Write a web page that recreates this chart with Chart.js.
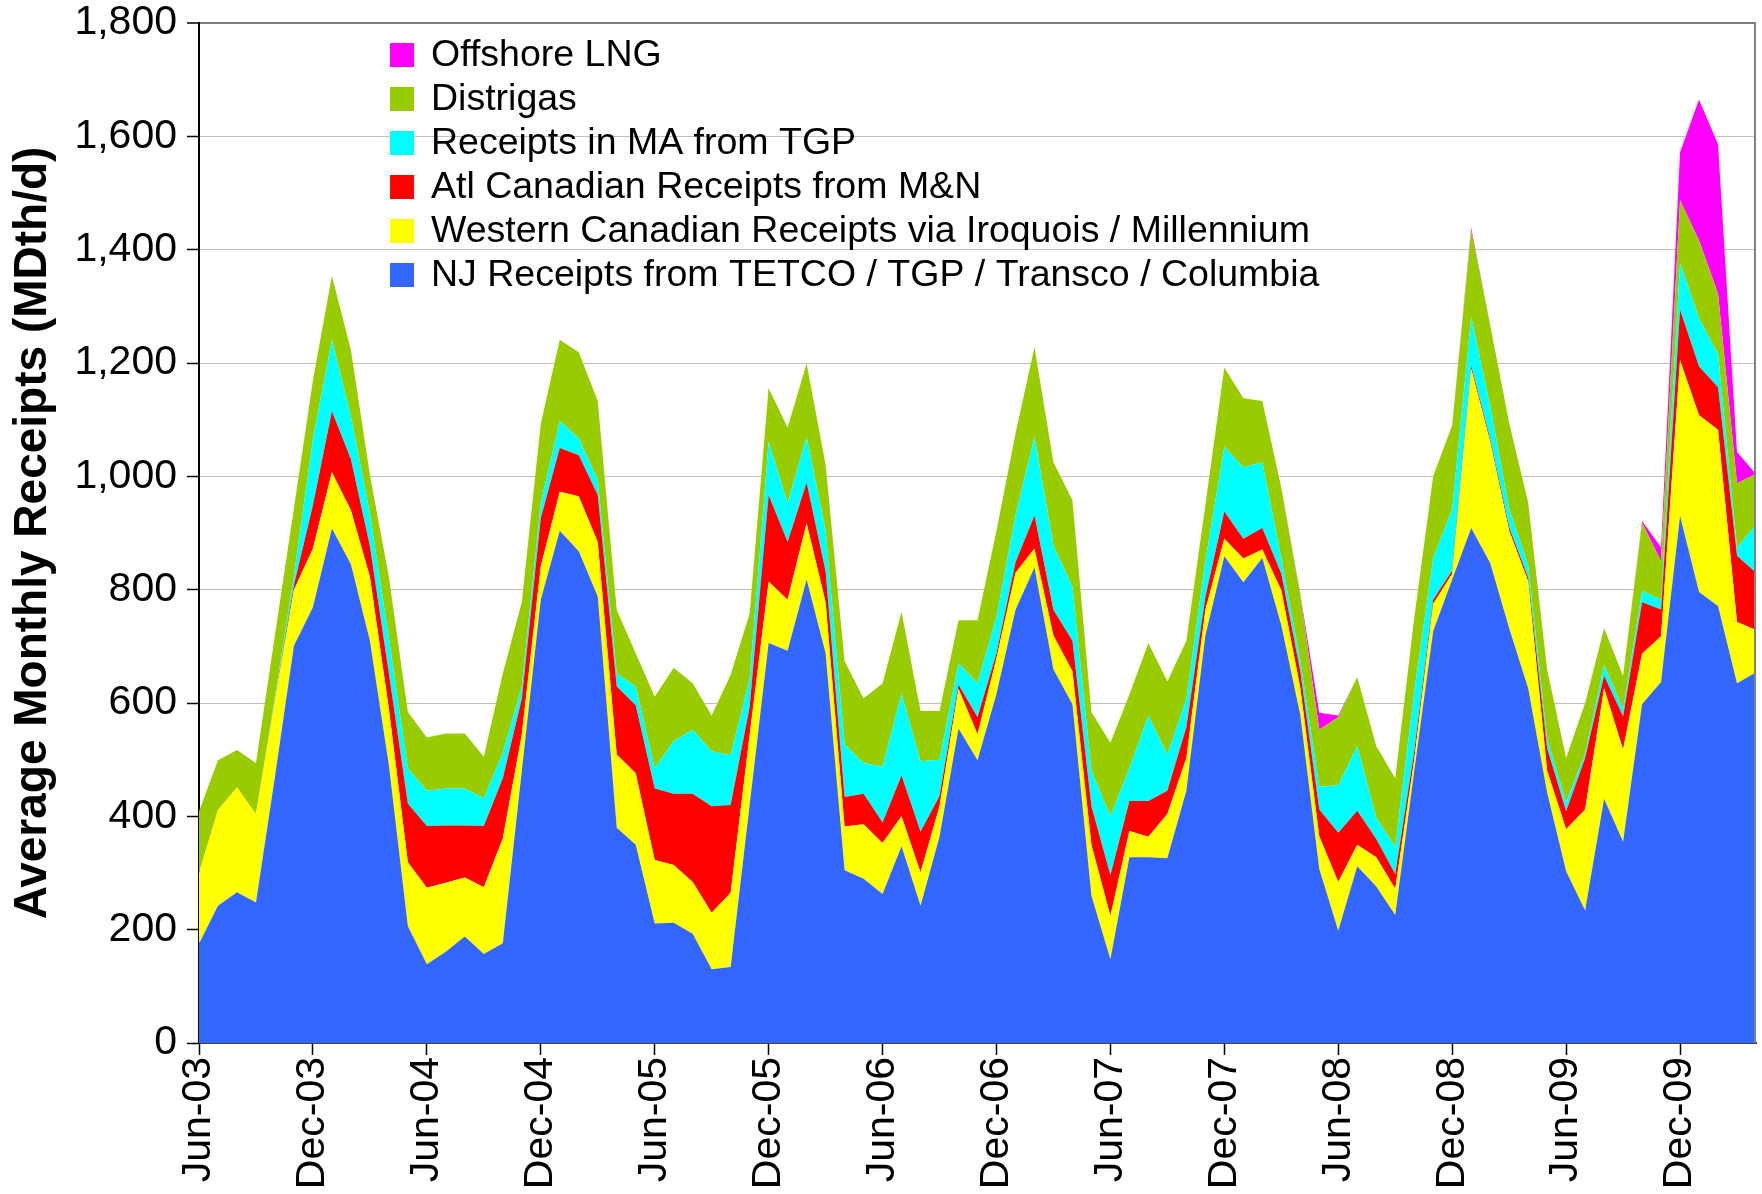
<!DOCTYPE html>
<html>
<head>
<meta charset="utf-8">
<script src="https://cdn.jsdelivr.net/npm/chart.js@4.4.1/dist/chart.umd.min.js"></script>
<style>
  html, body { margin: 0; padding: 0; background: #ffffff; }
  #wrap { width: 1762px; height: 1194px; }
</style>
</head>
<body>
<div id="wrap"><canvas id="c" width="1762" height="1194"></canvas></div>
<script>
// Monthly categories, Jun-03 .. Apr-10
const months = [
  'Jun-03','Jul-03','Aug-03','Sep-03','Oct-03','Nov-03','Dec-03',
  'Jan-04','Feb-04','Mar-04','Apr-04','May-04','Jun-04','Jul-04','Aug-04','Sep-04','Oct-04','Nov-04','Dec-04',
  'Jan-05','Feb-05','Mar-05','Apr-05','May-05','Jun-05','Jul-05','Aug-05','Sep-05','Oct-05','Nov-05','Dec-05',
  'Jan-06','Feb-06','Mar-06','Apr-06','May-06','Jun-06','Jul-06','Aug-06','Sep-06','Oct-06','Nov-06','Dec-06',
  'Jan-07','Feb-07','Mar-07','Apr-07','May-07','Jun-07','Jul-07','Aug-07','Sep-07','Oct-07','Nov-07','Dec-07',
  'Jan-08','Feb-08','Mar-08','Apr-08','May-08','Jun-08','Jul-08','Aug-08','Sep-08','Oct-08','Nov-08','Dec-08',
  'Jan-09','Feb-09','Mar-09','Apr-09','May-09','Jun-09','Jul-09','Aug-09','Sep-09','Oct-09','Nov-09','Dec-09',
  'Jan-10','Feb-10','Mar-10','Apr-10'
];

// Only these months get a labelled tick on the date axis
const labelledMonths = ['Jun', 'Dec'];

// Average monthly receipts by source (MDth/d), stacked bottom to top
const njReceipts = [
  175,242,266,248,470,701,769,908,845,710,
  490,206,139,161,188,157,176,480,782,904,
  868,788,380,350,211,212,193,130,134,420,
  706,692,818,688,305,290,263,347,242,364,
  555,499,616,764,839,659,598,260,148,328,
  328,326,445,719,859,813,856,737,579,307,
  198,312,276,226,480,727,818,909,847,732,
  626,442,303,234,431,355,598,637,930,796,
  771,635,654
];
const westernCanadian = [
  125,169,185,156,135,99,103,99,95,113,
  100,113,135,122,104,118,185,64,59,69,
  97,96,129,126,112,102,91,100,131,123,
  108,90,99,90,77,96,90,53,59,54,
  70,46,63,66,33,60,58,90,76,46,
  36,78,58,45,31,42,15,62,48,58,
  86,38,52,46,20,48,10,281,214,172,
  189,39,74,178,195,163,89,81,275,312,
  311,108,75
];
const atlCanadian = [
  0,0,0,0,2,8,77,108,90,54,
  62,103,109,101,92,108,106,63,85,77,
  72,83,120,120,126,126,156,188,155,50,
  153,102,72,54,52,54,36,72,72,18,
  7,30,9,18,59,45,54,68,72,53,
  63,41,54,23,48,35,38,29,29,47,
  87,60,32,26,15,7,6,5,5,6,
  6,39,32,91,22,58,91,47,89,86,
  75,117,101
];
const maTgp = [
  0,0,0,0,5,17,117,126,76,58,
  63,63,62,65,65,49,45,22,27,48,
  30,27,23,33,36,93,113,97,88,50,
  94,69,81,72,93,54,99,145,124,64,
  38,60,64,83,139,114,95,63,104,58,
  151,64,50,63,114,126,116,28,19,40,
  84,114,38,48,105,74,108,86,58,33,
  22,17,16,8,19,13,20,17,83,85,
  59,14,85
];
const distrigas = [
  109,88,66,90,108,119,103,113,117,68,
  108,99,94,97,97,73,140,149,140,143,
  152,139,112,59,126,129,82,63,142,115,
  95,133,129,117,147,114,147,144,89,86,
  76,111,152,144,158,147,153,103,130,130,
  128,129,103,99,140,122,108,124,115,101,
  120,122,126,121,130,144,148,153,143,151,
  111,122,78,89,65,59,120,68,110,137,
  106,114,89
];
const offshoreLng = [
  0,0,0,0,0,0,0,0,0,0,
  0,0,0,0,0,0,0,0,0,0,
  0,0,0,0,0,0,0,0,0,0,
  0,0,0,0,0,0,0,0,0,0,
  0,0,0,0,0,0,0,0,0,0,
  0,0,0,0,0,0,0,0,3,30,
  3,0,0,0,0,0,0,5,0,0,
  0,0,0,0,0,0,3,25,85,249,
  264,55,0
];

const seriesNames = [
  'NJ Receipts from TETCO / TGP / Transco / Columbia',
  'Western Canadian Receipts via Iroquois / Millennium',
  'Atl Canadian Receipts from M&N',
  'Receipts in MA from TGP',
  'Distrigas',
  'Offshore LNG'
];
const seriesValues = [njReceipts, westernCanadian, atlCanadian, maTgp, distrigas, offshoreLng];
const seriesColors = ['#3366FF', '#FFFF00', '#FF0000', '#00FFFF', '#99CC00', '#FF00FF'];

const yTicks = [0, 200, 400, 600, 800, 1000, 1200, 1400, 1600, 1800];

const FONT = '"Liberation Sans", Arial, Helvetica, sans-serif';

function isLabelled(i) {
  return labelledMonths.includes(months[i].slice(0, 3));
}

// Legend drawn inside the plot, top item = top layer
const insideLegend = {
  id: 'insideLegend',
  afterDraw(chart) {
    const ctx = chart.ctx;
    const area = chart.chartArea;
    const x0 = area.left + 191;
    const y0 = area.top + 32;
    const rowH = 44;
    const box = 24;
    ctx.save();
    ctx.font = '37.5px ' + FONT;
    ctx.textBaseline = 'middle';
    ctx.textAlign = 'left';
    const ds = chart.data.datasets.slice().reverse();
    ds.forEach((d, k) => {
      const cy = y0 + k * rowH;
      ctx.fillStyle = d.backgroundColor;
      ctx.fillRect(x0, cy - box / 2, box, box);
      ctx.fillStyle = '#000000';
      ctx.fillText(d.label, x0 + 41, cy + 1);
    });
    ctx.restore();
  }
};

// Grey frame on the right-hand side of the plot
const rightFrame = {
  id: 'rightFrame',
  afterDatasetsDraw(chart) {
    const ctx = chart.ctx;
    const a = chart.chartArea;
    ctx.save();
    ctx.strokeStyle = '#808080';
    ctx.lineWidth = 2;
    ctx.beginPath();
    ctx.moveTo(a.right - 1, a.top);
    ctx.lineTo(a.right - 1, a.bottom);
    ctx.stroke();
    ctx.restore();
  }
};

new Chart(document.getElementById('c'), {
  type: 'line',
  data: {
    labels: months,
    datasets: seriesValues.map((vals, i) => ({
      label: seriesNames[i],
      data: vals,
      backgroundColor: seriesColors[i],
      borderColor: seriesColors[i],
      borderWidth: 0,
      pointRadius: 0,
      pointHoverRadius: 0,
      tension: 0,
      fill: i === 0 ? 'origin' : '-1'
    }))
  },
  plugins: [insideLegend, rightFrame],
  options: {
    responsive: false,
    animation: false,
    events: [],
    layout: { padding: { left: 0, right: 6, top: 23, bottom: 0 } },
    plugins: {
      legend: { display: false },
      tooltip: { enabled: false },
      filler: { propagate: false }
    },
    scales: {
      x: {
        type: 'category',
        offset: false,
        afterFit(s) { s.height = 151; s.paddingLeft = 0; s.paddingRight = 0; },
        grid: {
          drawOnChartArea: false,
          drawTicks: true,
          tickLength: 12,
          tickWidth: 1.5,
          tickColor: (c) => isLabelled(c.index) ? '#000000' : 'rgba(0,0,0,0)'
        },
        border: { display: true, color: '#404040', width: 2 },
        ticks: {
          autoSkip: false,
          minRotation: 90,
          maxRotation: 90,
          padding: 2,
          color: '#000000',
          font: { family: FONT, size: 41 },
          callback(value, index) { return isLabelled(index) ? months[index] : ''; }
        }
      },
      y: {
        stacked: true,
        min: 0,
        max: 1800,
        afterFit(s) { s.width = 199; s.paddingTop = 0; s.paddingBottom = 0; },
        afterBuildTicks(s) { s.ticks = yTicks.map(v => ({ value: v })); },
        grid: {
          color: (c) => c.tick && c.tick.value === 1800 ? '#808080' : '#c0c0c0',
          lineWidth: (c) => c.tick && c.tick.value === 1800 ? 2 : 1,
          tickLength: 12,
          tickColor: '#000000',
          tickWidth: 1.5
        },
        border: { display: true, color: '#000000', width: 2 },
        ticks: {
          padding: 10,
          color: '#000000',
          font: { family: FONT, size: 41 },
          callback(v) { return Number(v).toLocaleString('en-US'); }
        },
        title: {
          display: true,
          text: 'Average Monthly Receipts (MDth/d)',
          color: '#000000',
          font: { family: FONT, size: 46, weight: 'bold' },
          padding: { top: 6, bottom: 0 }
        }
      }
    }
  }
});
</script>
</body>
</html>
